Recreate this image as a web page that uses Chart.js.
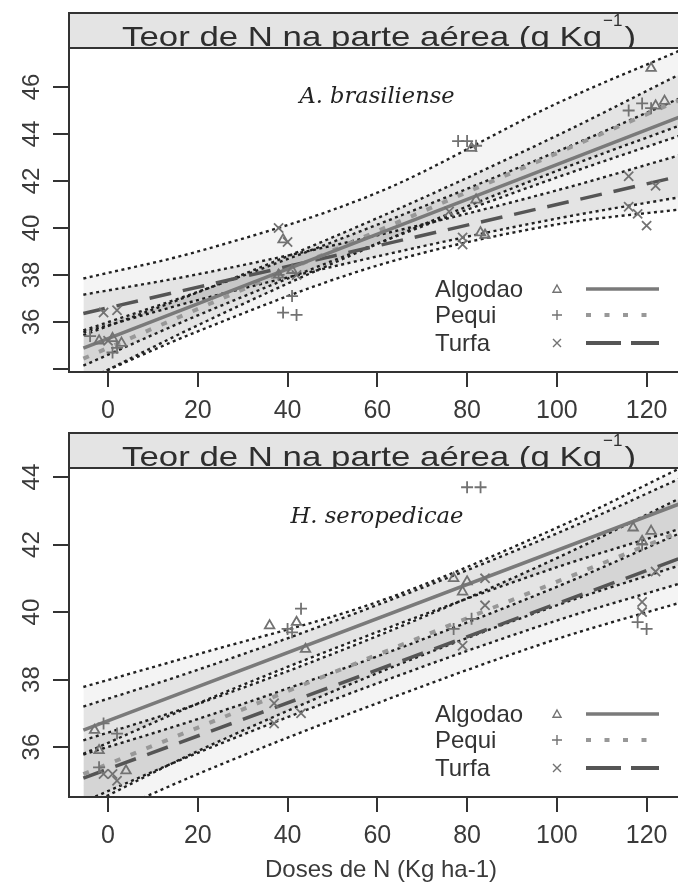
<!DOCTYPE html>
<html><head><meta charset="utf-8">
<script src="https://cdn.jsdelivr.net/npm/chart.js@4/dist/chart.umd.min.js"></script>
<style>
html,body{margin:0;padding:0;background:#fff;overflow:hidden;}
#wrap{position:relative;width:678px;height:883px;overflow:hidden;background:#fff;}
canvas{position:absolute;left:0;top:0;}
</style></head><body>
<div id="wrap"><canvas id="c1" width="700" height="883"></canvas><canvas id="c2" width="700" height="883"></canvas></div>
<script>
// ---------- text ----------
const stripTitle = 'Teor de N na parte aérea (g Kg';
const stripSup = '\u22121';
const stripClose = ')';
const speciesTop = 'A. brasiliense';
const speciesBottom = 'H. seropedicae';
const xTitle = 'Doses de N (Kg ha-1)';
const seriesNames = ['Algodao', 'Pequi', 'Turfa'];

// ---------- ticks ----------
const doseTicks = [0, 20, 40, 60, 80, 100, 120];
const topYTicks = [34, 36, 38, 40, 42, 44, 46];
const topYLabels = [36, 38, 40, 42, 44, 46];
const bottomYTicks = [36, 38, 40, 42, 44];
const bottomYLabels = [36, 38, 40, 42, 44];

// ---------- observed points: top panel (A. brasiliense) ----------
const topAlgodaoDose = [-2, 1, 3, 39, 38, 41, 81, 82, 83, 84, 121, 122, 124];
const topAlgodaoN    = [35.2, 35.3, 35.1, 39.5, 38.0, 38.2, 43.4, 41.2, 39.8, 39.7, 46.8, 45.2, 45.4];
const topPequiDose   = [-4, 1, 2, 38, 39, 41, 42, 78, 80, 82, 116, 119, 121];
const topPequiN      = [35.4, 34.7, 34.9, 38.0, 36.4, 37.1, 36.3, 43.7, 43.7, 43.5, 45.0, 45.3, 45.1];
const topTurfaDose   = [-1, 2, 0, 38, 40, 42, 76, 79, 79, 116, 122, 116, 118, 120];
const topTurfaN      = [36.4, 36.5, 35.2, 40.0, 39.4, 38.0, 40.7, 39.6, 39.3, 42.2, 41.8, 40.9, 40.6, 40.1];

// ---------- observed points: bottom panel (H. seropedicae) ----------
const botAlgodaoDose = [-2, 4, -3, 36, 42, 44, 77, 79, 80, 117, 121, 119];
const botAlgodaoN    = [35.9, 35.3, 36.5, 39.6, 39.7, 38.9, 41.0, 40.6, 40.9, 42.5, 42.4, 42.1];
const botPequiDose   = [-1, 2, -2, 40, 43, 41, 80, 83, 77, 81, 119, 118, 120];
const botPequiN      = [36.7, 36.4, 35.4, 39.5, 40.1, 39.4, 43.7, 43.7, 39.5, 39.8, 42.0, 39.7, 39.5];
const botTurfaDose   = [-1, 1, 2, 37, 37, 43, 84, 84, 79, 122, 119, 119];
const botTurfaN      = [35.2, 35.2, 35.0, 37.3, 36.7, 37.0, 41.0, 40.2, 39.0, 41.2, 40.3, 40.0];

// ---------- fitted lines (values at lineX) ----------
const lineX = [-5.5, 128];
const topAlgodaoFit = [34.89, 44.77];
const topPequiFit   = [34.44, 45.50];
const topTurfaFit   = [36.36, 42.23];
const botAlgodaoFit = [36.50, 43.24];
const botPequiFit   = [35.20, 42.41];
const botTurfaFit   = [35.08, 41.62];

// ---------- confidence / prediction bands (values at bandX) ----------
const bandX = [-5.5, 20, 60, 100, 128];
const topAlgodaoUpper = [35.64, 37.28, 40.14, 43.25, 45.57];
const topAlgodaoLower = [34.14, 36.28, 39.34, 42.15, 43.97];
const topPequiUpper   = [35.44, 37.26, 40.42, 43.93, 46.60];
const topPequiLower   = [33.44, 35.86, 39.32, 42.43, 44.40];
const topTurfaUpper   = [37.16, 38.03, 39.69, 41.60, 43.13];
const topTurfaLower   = [35.56, 36.93, 38.79, 40.40, 41.33];
const topOuterUpper   = [37.85, 39.00, 41.50, 45.30, 47.60];
const topOuterLower   = [33.50, 35.60, 38.40, 40.15, 40.80];

const botAlgodaoUpper = [37.20, 38.29, 40.21, 42.33, 43.99];
const botAlgodaoLower = [35.80, 37.29, 39.41, 41.33, 42.49];
const botPequiUpper   = [36.20, 37.28, 39.29, 41.60, 43.41];
const botPequiLower   = [34.20, 35.88, 38.19, 40.20, 41.41];
const botTurfaUpper   = [35.78, 36.83, 38.69, 40.75, 42.37];
const botTurfaLower   = [34.38, 35.83, 37.89, 39.75, 40.87];
const botOuterUpper   = [37.78, 38.75, 40.30, 42.50, 44.30];
const botOuterLower   = [33.70, 35.20, 37.30, 39.20, 40.30];

// ---------- helpers ----------
const FONT = '"Liberation Sans", Arial, sans-serif';
const TEXT = '#3a3a3a';
const AXIS = '#333333';
const PT = '#727272';
function pts(xs, ys) { return xs.map((x, i) => ({ x: x, y: ys[i] })); }

function pointSet(xs, ys, style, r) {
  return { type: 'line', data: pts(xs, ys), showLine: false, pointStyle: style,
    pointRadius: r, pointBorderColor: PT, pointBackgroundColor: 'rgba(0,0,0,0)',
    pointBorderWidth: 1.8, borderColor: PT };
}
function fitLine(ys, kind) {
  const base = { type: 'line', data: pts(lineX, ys), pointRadius: 0, fill: false, tension: 0 };
  if (kind === 0) return Object.assign(base, { borderColor: '#7a7a7a', borderWidth: 3.5 });
  if (kind === 1) return Object.assign(base, { borderColor: '#989898', borderWidth: 4, borderDash: [6, 11] });
  return Object.assign(base, { borderColor: '#555555', borderWidth: 3.5, borderDash: [22, 12] });
}
function band(upper, lower, fillColor) {
  const common = { type: 'line', pointRadius: 0, borderColor: '#222222', borderWidth: 2.4,
    borderDash: [3, 3.5], cubicInterpolationMode: 'monotone' };
  return [
    Object.assign({}, common, { data: pts(bandX, upper), fill: '+1', backgroundColor: fillColor }),
    Object.assign({}, common, { data: pts(bandX, lower), fill: false })
  ];
}

function drawSym(ctx, kind, x, y, r) {
  ctx.save(); ctx.strokeStyle = PT; ctx.lineWidth = 1.4; ctx.beginPath();
  if (kind === 0) { ctx.moveTo(x, y - r); ctx.lineTo(x + r, y + r * 0.8); ctx.lineTo(x - r, y + r * 0.8); ctx.closePath(); }
  else if (kind === 1) { ctx.moveTo(x - r, y); ctx.lineTo(x + r, y); ctx.moveTo(x, y - r); ctx.lineTo(x, y + r); }
  else { ctx.moveTo(x - r * 0.8, y - r * 0.8); ctx.lineTo(x + r * 0.8, y + r * 0.8); ctx.moveTo(x + r * 0.8, y - r * 0.8); ctx.lineTo(x - r * 0.8, y + r * 0.8); }
  ctx.stroke(); ctx.restore();
}

function decor(species, speciesWidth, yLabels, showXTitle) {
  return {
    id: 'decor',
    afterDraw(chart) {
      const ctx = chart.ctx, ca = chart.chartArea;
      const xs = chart.scales.x, ys = chart.scales.y;
      const stripTop = ca.top - 35;
      ctx.save();
      // strip
      ctx.fillStyle = '#e4e4e4';
      ctx.fillRect(ca.left, stripTop, chart.width - ca.left, 35);
      ctx.save();
      ctx.beginPath(); ctx.rect(ca.left, stripTop, chart.width - ca.left, 35); ctx.clip();
      ctx.fillStyle = '#2e2e2e';
      ctx.font = '28px ' + FONT;
      ctx.textBaseline = 'alphabetic'; ctx.textAlign = 'left';
      const w0 = ctx.measureText(stripTitle).width;
      const sx = 480 / w0;
      const x0 = ca.left + 53;
      ctx.save(); ctx.translate(x0, ca.top - 2); ctx.scale(sx, 1); ctx.fillText(stripTitle, 0, 0); ctx.restore();
      const xs1 = x0 + 480 + 1;
      ctx.font = '17px ' + FONT;
      ctx.fillText(stripSup, xs1, ca.top - 22);
      const ws = ctx.measureText(stripSup).width;
      ctx.font = '28px ' + FONT;
      ctx.save(); ctx.translate(xs1 + ws + 2, ca.top - 2); ctx.scale(sx, 1); ctx.fillText(stripClose, 0, 0); ctx.restore();
      ctx.restore();
      // box
      ctx.strokeStyle = AXIS; ctx.lineWidth = 2;
      ctx.strokeRect(ca.left, stripTop, ca.right - ca.left, ca.bottom - stripTop);
      ctx.beginPath(); ctx.moveTo(ca.left, ca.top); ctx.lineTo(ca.right, ca.top); ctx.stroke();
      // y tick labels (rotated)
      ctx.fillStyle = TEXT; ctx.font = '24px ' + FONT;
      ctx.textAlign = 'center'; ctx.textBaseline = 'middle';
      yLabels.forEach(v => {
        const py = ys.getPixelForValue(v);
        ctx.save(); ctx.translate(31, py); ctx.rotate(-Math.PI / 2); ctx.fillText(String(v), 0, 1); ctx.restore();
      });
      // x tick labels
      ctx.font = '25px ' + FONT;
      doseTicks.forEach(v => { ctx.fillText(String(v), xs.getPixelForValue(v), ca.bottom + 39); });
      // species label
      ctx.font = 'italic 22px "DejaVu Serif", serif';
      const wsp = ctx.measureText(species).width;
      ctx.save(); ctx.translate(ca.left + 308, ca.top + 49); ctx.scale(speciesWidth / wsp, 1);
      ctx.textAlign = 'center'; ctx.fillStyle = '#222'; ctx.fillText(species, 0, 0); ctx.restore();
      // legend
      const rows = [ca.bottom - 83, ca.bottom - 57, ca.bottom - 29];
      ctx.font = '24px ' + FONT; ctx.textAlign = 'left'; ctx.fillStyle = '#333';
      seriesNames.forEach((n, i) => {
        const y = rows[i];
        ctx.fillText(n, 435, y + 1);
        drawSym(ctx, i, 557, y, i === 0 ? 4 : 5);
        ctx.save(); ctx.beginPath(); ctx.moveTo(586, y); ctx.lineTo(659, y);
        if (i === 0) { ctx.strokeStyle = '#7a7a7a'; ctx.lineWidth = 3.5; }
        else if (i === 1) { ctx.strokeStyle = '#989898'; ctx.lineWidth = 4; ctx.setLineDash([5, 13.5]); }
        else { ctx.strokeStyle = '#555555'; ctx.lineWidth = 4; ctx.setLineDash([35, 10]); }
        ctx.stroke(); ctx.restore();
      });
      if (showXTitle) {
        ctx.font = '24px ' + FONT; ctx.textAlign = 'center'; ctx.fillStyle = TEXT;
        ctx.fillText(xTitle, 381, ca.bottom + 73);
      }
      ctx.restore();
    }
  };
}

function makeChart(id, cfg) {
  const datasets = [
    pointSet(cfg.aD, cfg.aN, 'triangle', 5.5),
    pointSet(cfg.pD, cfg.pN, 'cross', 6),
    pointSet(cfg.tD, cfg.tN, 'crossRot', 6.5),
    fitLine(cfg.aFit, 0), fitLine(cfg.pFit, 1), fitLine(cfg.tFit, 2)
  ].concat(
    band(cfg.aU, cfg.aL, 'rgba(0,0,0,0.065)'),
    band(cfg.pU, cfg.pL, 'rgba(0,0,0,0.065)'),
    band(cfg.tU, cfg.tL, 'rgba(0,0,0,0.065)'),
    band(cfg.oU, cfg.oL, 'rgba(0,0,0,0.045)')
  );
  return new Chart(document.getElementById(id), {
    type: 'line',
    data: { datasets: datasets },
    options: {
      responsive: false, animation: false, devicePixelRatio: 1,
      layout: { padding: cfg.padding },
      plugins: { legend: { display: false }, tooltip: { enabled: false } },
      scales: {
        x: { type: 'linear', min: -8.7, max: 129,
          afterBuildTicks: s => { s.ticks = doseTicks.map(v => ({ value: v })); },
          afterFit: s => { s.height = 53; },
          ticks: { display: false, autoSkip: false },
          border: { display: false },
          grid: { drawOnChartArea: false, drawTicks: true, tickLength: 15, color: AXIS, lineWidth: 2 } },
        y: { type: 'linear', min: cfg.yMin, max: cfg.yMax,
          afterBuildTicks: s => { s.ticks = cfg.yTicks.map(v => ({ value: v })); },
          afterFit: s => { s.width = 69; },
          ticks: { display: false, autoSkip: false },
          border: { display: false },
          grid: { drawOnChartArea: false, drawTicks: true, tickLength: 16, color: AXIS, lineWidth: 2 } }
      }
    },
    plugins: [decor(cfg.species, cfg.speciesWidth, cfg.yLabels, cfg.xTitle)]
  });
}

makeChart('c1', {
  aD: topAlgodaoDose, aN: topAlgodaoN, pD: topPequiDose, pN: topPequiN, tD: topTurfaDose, tN: topTurfaN,
  aFit: topAlgodaoFit, pFit: topPequiFit, tFit: topTurfaFit,
  aU: topAlgodaoUpper, aL: topAlgodaoLower, pU: topPequiUpper, pL: topPequiLower,
  tU: topTurfaUpper, tL: topTurfaLower, oU: topOuterUpper, oL: topOuterLower,
  yMin: 33.87, yMax: 47.66, yTicks: topYTicks, yLabels: topYLabels,
  padding: { left: 0, right: 13, top: 48, bottom: 458 },
  species: speciesTop, speciesWidth: 155, xTitle: false
});
makeChart('c2', {
  aD: botAlgodaoDose, aN: botAlgodaoN, pD: botPequiDose, pN: botPequiN, tD: botTurfaDose, tN: botTurfaN,
  aFit: botAlgodaoFit, pFit: botPequiFit, tFit: botTurfaFit,
  aU: botAlgodaoUpper, aL: botAlgodaoLower, pU: botPequiUpper, pL: botPequiLower,
  tU: botTurfaUpper, tL: botTurfaLower, oU: botOuterUpper, oL: botOuterLower,
  yMin: 34.52, yMax: 44.27, yTicks: bottomYTicks, yLabels: bottomYLabels,
  padding: { left: 0, right: 13, top: 468, bottom: 33 },
  species: speciesBottom, speciesWidth: 173, xTitle: true
});
</script>
</body></html>
